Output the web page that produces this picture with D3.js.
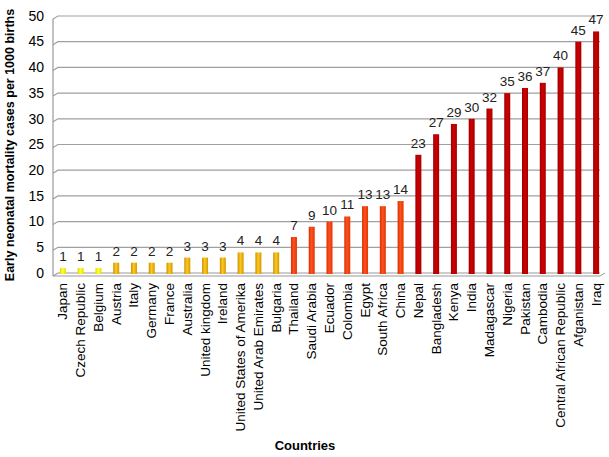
<!DOCTYPE html>
<html><head><meta charset="utf-8">
<script src="https://cdn.jsdelivr.net/npm/d3@7"></script>
<style>body{margin:0;background:#fff;}svg{display:block;font-family:"Liberation Sans",Arial,sans-serif;}</style>
</head><body>
<svg id="c" width="609" height="457"></svg>
<script>
const countries = ["Japan","Czech Republic","Belgium","Austria","Italy","Germany","France","Australia","United kingdom","Ireland","United States of Amerika","United Arab Emirates","Bulgaria","Thailand","Saudi Arabia","Ecuador","Colombia","Egypt","South Africa","China","Nepal","Bangladesh","Kenya","India","Madagascar","Nigeria","Pakistan","Cambodia","Central African Republic","Afganistan","Iraq"];
const values = [1,1,1,2,2,2,2,3,3,3,4,4,4,7,9,10,11,13,13,14,23,27,29,30,32,35,36,37,40,45,47];
const groups = ["y","y","y","a","a","a","a","a","a","a","a","a","a","o","o","o","o","o","o","o","r","r","r","r","r","r","r","r","r","r","r"];
const yTicks = [0,5,10,15,20,25,30,35,40,45,50];
const yTitle = "Early neonatal mortality cases per 1000 births";
const xTitle = "Countries";

const svg = d3.select("#c");
const x = d3.scaleBand().domain(countries).range([54,605]);
const y = d3.scaleLinear().domain([0,50]).range([273,16]);

const colors = {y:["#d8d800","#ffff40","#e0e000"], a:["#c89000","#ffc820","#d09a00"], o:["#d83000","#ff5020","#e03800"], r:["#980000","#d00000","#a80000"]};
const defs = svg.append("defs");
Object.entries(colors).forEach(([k,c])=>{
  const g = defs.append("linearGradient").attr("id","g"+k).attr("x1","0").attr("x2","1").attr("y1","0").attr("y2","0");
  g.append("stop").attr("offset","0").attr("stop-color",c[0]);
  g.append("stop").attr("offset","0.45").attr("stop-color",c[1]);
  g.append("stop").attr("offset","1").attr("stop-color",c[2]);
});

// gridlines
const grid = svg.append("g");
yTicks.forEach(t=>{
  const yy = y(t);
  grid.append("path").attr("d",`M53,${yy+3}L58,${yy}L600,${yy}`).attr("fill","none").attr("stroke", t===0?"#999":"#a0a0a0").attr("stroke-width",1.2);
});
// floor
svg.append("path").attr("d",`M53,${y(0)+3}L600,${y(0)+3}L605,${y(0)}`).attr("fill","none").attr("stroke","#999").attr("stroke-width",1);
svg.append("line").attr("x1",53).attr("x2",53).attr("y1",y(50)+3).attr("y2",y(0)+3).attr("stroke","#999").attr("stroke-width",1.2);

// y tick labels
svg.append("g").selectAll("text").data(yTicks).join("text")
  .attr("x",44).attr("y",d=>y(d)+1).attr("text-anchor","end").attr("dominant-baseline","middle")
  .attr("font-size",14).attr("fill","#000").text(d=>d);

// bars
const bw = 6;
svg.append("g").selectAll("rect").data(values).join("rect")
  .attr("x",(d,i)=>x(countries[i])+x.bandwidth()/2-bw/2)
  .attr("y",d=>y(d))
  .attr("width",bw).attr("height",d=>y(0)+1-y(d))
  .attr("fill",(d,i)=>`url(#g${groups[i]})`);

// value labels
svg.append("g").selectAll("text").data(values).join("text")
  .attr("x",(d,i)=>x(countries[i])+x.bandwidth()/2)
  .attr("y",d=>y(d)-7).attr("text-anchor","middle")
  .attr("font-size",13.5).attr("fill","#222").text(d=>d);

// x labels
svg.append("g").selectAll("text").data(countries).join("text")
  .attr("transform",c=>`translate(${x(c)+x.bandwidth()/2+4.5},283) rotate(-90)`)
  .attr("text-anchor","end").attr("font-size",13.5).attr("fill","#000").text(c=>c);

// titles
svg.append("text").attr("x",305).attr("y",450).attr("text-anchor","middle").attr("font-size",13).attr("font-weight","bold").text(xTitle);
svg.append("text").attr("transform","translate(14,145) rotate(-90)").attr("text-anchor","middle").attr("font-size",12.5).attr("font-weight","bold").text(yTitle);
</script>
</body></html>
